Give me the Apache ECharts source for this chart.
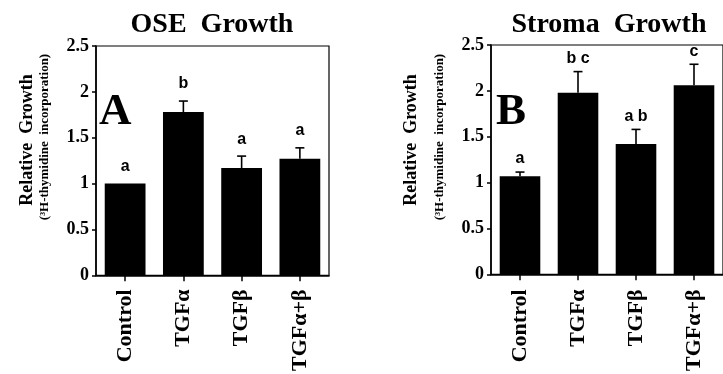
<!DOCTYPE html>
<html>
<head>
<meta charset="utf-8">
<script src="https://cdn.jsdelivr.net/npm/echarts@6/dist/echarts.min.js"></script>
<style>html,body{margin:0;padding:0;background:#fff;}#c{width:723px;height:374px;}</style>
</head>
<body>
<div id="c"></div>
<script>
var categories = ['Control', 'TGFα', 'TGFβ', 'TGFα+β'];
var yTicks = [0, 0.5, 1, 1.5, 2, 2.5];
var oseValues = [1.00, 1.78, 1.17, 1.27];
var oseErr = [0, 0.12, 0.13, 0.12];
var oseLetters = ['a', 'b', 'a', 'a'];
var stromaValues = [1.07, 1.98, 1.42, 2.06];
var stromaErr = [0.045, 0.23, 0.16, 0.23];
var stromaLetters = ['a', 'b c', 'a b', 'c'];

var SERIF = '"Times New Roman","Liberation Serif","DejaVu Serif",serif';
var SANS = 'Arial,"Liberation Sans",Helvetica,sans-serif';

var chart = echarts.init(document.getElementById('c'), null, {renderer: 'canvas'});

function xAxis(gi, margin) {
  return {
    type: 'category', gridIndex: gi, data: categories,
    axisLine: {lineStyle: {color: '#000', width: 1.6}},
    axisTick: {show: true, alignWithLabel: true, length: 6, lineStyle: {color: '#000', width: 1.5}},
    axisLabel: {rotate: 90, margin: margin, color: '#000', fontFamily: SERIF, fontWeight: 'bold', fontSize: 22}
  };
}
function yAxis(gi) {
  return {
    type: 'value', gridIndex: gi, min: yTicks[0], max: yTicks[yTicks.length - 1], interval: 0.5,
    axisLine: {show: true, lineStyle: {color: '#000', width: 1.6}},
    axisTick: {show: true, length: 4, lineStyle: {color: '#000', width: 1.5}},
    splitLine: {show: false},
    axisLabel: {margin: 7, color: '#000', fontFamily: SERIF, fontWeight: 'bold', fontSize: 18,
      formatter: function (v) { return String(v); }}
  };
}
function errSeries(gi, values, errs, letters, gap) {
  return {
    type: 'custom', xAxisIndex: gi, yAxisIndex: gi, z: 5,
    data: values.map(function (v, i) { return [i, v, v + errs[i]]; }),
    renderItem: function (params, api) {
      var i = api.value(0);
      var p0 = api.coord([i, api.value(1)]);
      var p1 = api.coord([i, api.value(2)]);
      var children = [];
      if (p0[1] - p1[1] > 0.5) {
        children.push({type: 'line', shape: {x1: p0[0], y1: p0[1], x2: p1[0], y2: p1[1]}, style: {stroke: '#000', lineWidth: 1.6}});
        children.push({type: 'line', shape: {x1: p1[0] - 4.5, y1: p1[1], x2: p1[0] + 4.5, y2: p1[1]}, style: {stroke: '#000', lineWidth: 1.6}});
      }
      children.push({type: 'text', x: p1[0], y: p1[1] - gap,
        style: {text: letters[params.dataIndex], fill: '#000', font: 'bold 16px ' + SANS, align: 'center', verticalAlign: 'bottom'}});
      return {type: 'group', children: children};
    }
  };
}

var option = {
  animation: false,
  backgroundColor: '#fff',
  grid: [
    {left: 96, top: 46, width: 233, height: 231, show: true, borderColor: '#000', borderWidth: 1.2, backgroundColor: 'transparent'},
    {left: 491, top: 45, width: 241, height: 238, show: true, borderColor: '#000', borderWidth: 1.2, backgroundColor: 'transparent'}
  ],
  xAxis: [xAxis(0, 14), xAxis(1, 15)],
  yAxis: [yAxis(0), yAxis(1)],
  series: [
    {type: 'bar', xAxisIndex: 0, yAxisIndex: 0, data: oseValues, barWidth: '70%', itemStyle: {color: '#000'}},
    {type: 'bar', xAxisIndex: 1, yAxisIndex: 1, data: stromaValues, barWidth: '70%', itemStyle: {color: '#000'}},
    errSeries(0, oseValues, oseErr, oseLetters, 9),
    errSeries(1, stromaValues, stromaErr, stromaLetters, 5)
  ],
  graphic: [
    {type: 'text', x: 212, y: 24.5, style: {text: 'OSE  Growth', font: 'bold 28px ' + SERIF, fill: '#000', align: 'center', verticalAlign: 'middle'}},
    {type: 'text', x: 609, y: 24.5, style: {text: 'Stroma  Growth', font: 'bold 28px ' + SERIF, fill: '#000', align: 'center', verticalAlign: 'middle'}},
    {type: 'text', x: 99, y: 90, style: {text: 'A', font: 'bold 45px ' + SERIF, fill: '#000', align: 'left', verticalAlign: 'alphabetic'}},
    {type: 'text', x: 496, y: 90, style: {text: 'B', font: 'bold 45px ' + SERIF, fill: '#000', align: 'left', verticalAlign: 'alphabetic'}},
    {type: 'text', x: 27, y: 140, rotation: Math.PI / 2, style: {text: 'Relative  Growth', font: 'bold 18px ' + SERIF, fill: '#000', align: 'center', verticalAlign: 'middle'}},
    {type: 'text', x: 45, y: 137, rotation: Math.PI / 2, style: {text: '(³H-thymidine  incorporation)', font: 'bold 13px ' + SERIF, fill: '#000', align: 'center', verticalAlign: 'middle'}},
    {type: 'text', x: 411, y: 140, rotation: Math.PI / 2, style: {text: 'Relative  Growth', font: 'bold 18px ' + SERIF, fill: '#000', align: 'center', verticalAlign: 'middle'}},
    {type: 'text', x: 440, y: 137, rotation: Math.PI / 2, style: {text: '(³H-thymidine  incorporation)', font: 'bold 13px ' + SERIF, fill: '#000', align: 'center', verticalAlign: 'middle'}}
  ]
};
chart.setOption(option);
</script>
</body>
</html>
